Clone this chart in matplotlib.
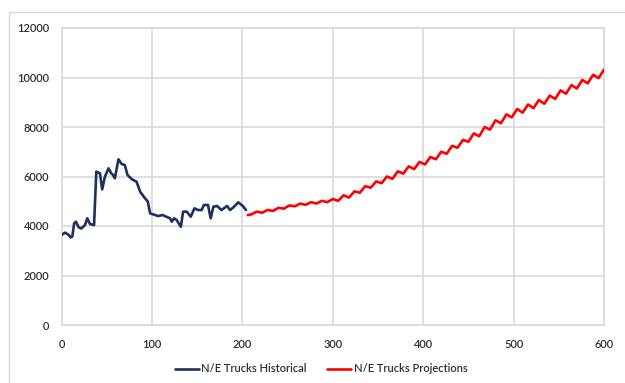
import matplotlib
matplotlib.use("Agg")
import matplotlib.pyplot as plt
from matplotlib.patches import Rectangle

# Historical series (month index, trucks)
hist_x = [0, 4, 8, 10, 12, 14, 16, 19, 22, 26, 28.5, 31.5, 36, 38.5, 42.5, 45, 48, 52,
          55, 57, 59, 63, 66.5, 70, 73, 78, 83, 87, 91, 95.5, 98, 103.5, 107, 111.5,
          116, 120, 122, 124.5, 127.5, 130, 132, 134.5, 138.5, 143, 147, 151, 155,
          157.5, 162, 165, 168, 172, 177, 183, 186.5, 190, 195.5, 200.5, 204]
hist_y = [3640, 3730, 3640, 3540, 3580, 4110, 4175, 3945, 3900, 4040, 4310, 4080, 4040,
          6195, 6130, 5480, 5990, 6330, 6130, 6060, 5925, 6695, 6505, 6465, 6060, 5885,
          5790, 5385, 5185, 4980, 4510, 4445, 4400, 4445, 4375, 4310, 4175, 4310, 4240,
          4080, 3970, 4580, 4580, 4375, 4715, 4645, 4645, 4850, 4850, 4310, 4780, 4810,
          4645, 4810, 4645, 4750, 4955, 4810, 4645]

# Projection series (month index, trucks)
proj_x = [206, 210, 216, 222, 228, 234, 240, 246, 252, 258, 264, 270, 276, 282, 288,
          294, 300, 306, 312, 318, 324, 330, 336, 342, 348, 354, 360, 366, 372, 378,
          384, 390, 396, 402, 408, 414, 420, 426, 432, 438, 444, 450, 456, 462, 468,
          474, 480, 486, 492, 498, 504, 510, 516, 522, 528, 534, 540, 546, 552, 558,
          564, 570, 576, 582, 588, 594, 600]
proj_y = [4440, 4470, 4580, 4535, 4650, 4610, 4735, 4700, 4830, 4795, 4905, 4855, 4962,
          4909, 5016, 4963, 5090, 5016, 5242, 5148, 5400, 5345, 5610, 5550, 5800, 5730,
          6000, 5905, 6210, 6115, 6410, 6300, 6590, 6485, 6790, 6695, 7000, 6920, 7240,
          7160, 7480, 7400, 7740, 7625, 8000, 7895, 8270, 8150, 8510, 8390, 8730, 8580,
          8910, 8760, 9090, 8940, 9270, 9135, 9480, 9345, 9690, 9555, 9900, 9765, 10110,
          9975, 10320]

x_ticks = [0, 100, 200, 300, 400, 500, 600]
y_ticks = [0, 2000, 4000, 6000, 8000, 10000, 12000]
series_labels = ["N/E Trucks Historical", "N/E Trucks Projections"]

plt.rcParams['font.family'] = ['Lato', 'DejaVu Sans']

W, H = 625, 383
fig = plt.figure(figsize=(W / 100, H / 100), dpi=100)
fig.patch.set_facecolor('white')

# outer chart border
fig.patches.append(Rectangle((9 / W, -0.05), 1.2, (H - 12) / H + 0.05,
                             transform=fig.transFigure, fill=False,
                             edgecolor='#d9d9d9', linewidth=1.0))

ax = fig.add_axes([61.5 / W, (H - 325) / H, (604 - 61.5) / W, (325 - 28) / H])
grid_c = '#d9d9d9'
ax.plot(hist_x, hist_y, color='#1f2f5e', lw=1.9, label=series_labels[0], zorder=3,
        solid_joinstyle='round', solid_capstyle='round')
ax.plot(proj_x, proj_y, color='#ff0000', lw=1.9, label=series_labels[1], zorder=3,
        solid_joinstyle='round', solid_capstyle='round')

ax.set_xlim(0, 600)
ax.set_ylim(0, 12000)
ax.set_xticks(x_ticks)
ax.set_yticks(y_ticks)
ax.set_xticklabels([str(v) for v in x_ticks])
ax.set_yticklabels([str(v) for v in y_ticks])
ax.grid(True, color=grid_c, lw=1.2)
ax.set_axisbelow(True)
for s in ax.spines.values():
    s.set_color(grid_c)
    s.set_linewidth(1.2)
ax.tick_params(axis='both', length=0, labelsize=8, colors='#303030')
ax.tick_params(axis='x', pad=10)
ax.tick_params(axis='y', pad=9)
for lab in ax.get_xticklabels() + ax.get_yticklabels():
    lab.set_fontweight('semibold')

leg = fig.legend(loc='center', bbox_to_anchor=(321 / W, (H - 369) / H), ncol=2,
                 frameon=False, fontsize=8, handlelength=2.2, columnspacing=1.8,
                 handletextpad=0.2, labelcolor='#303030')
for t in leg.get_texts():
    t.set_fontweight('semibold')

fig.savefig('out.png', dpi=100)
